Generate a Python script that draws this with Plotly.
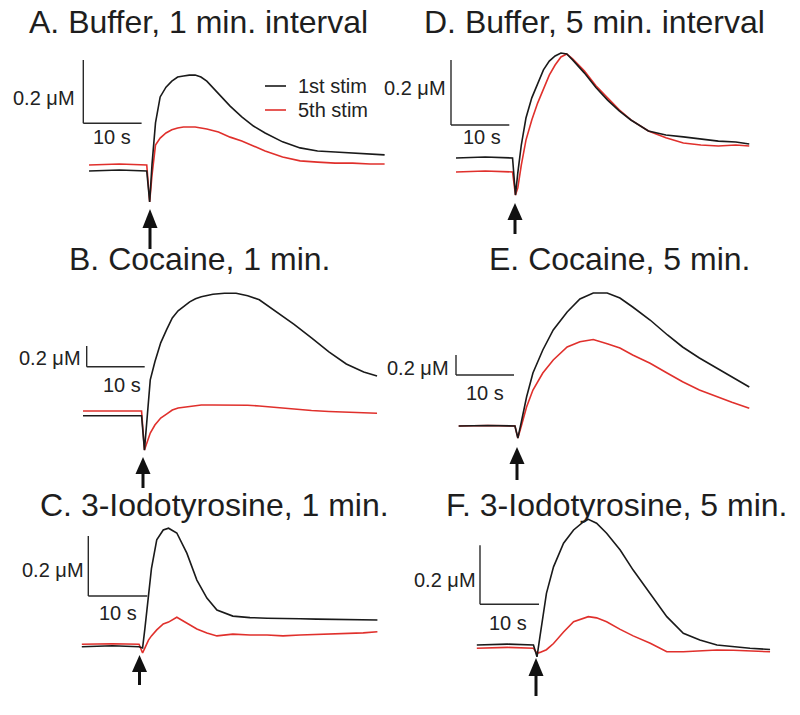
import plotly.graph_objects as go

W, H = 800, 715
FONT = "Liberation Sans, Arial, sans-serif"
BLACK = "#1a1a1a"
RED = "#e0302c"

# time (s, relative to stimulus) and dopamine (uM)
t_A = [-10.2, -5, -0.3, 0.2, 0.6, 1.2, 2, 3, 4, 5, 6, 7, 8, 9, 10, 12, 14, 16, 18, 20, 23, 26, 29, 32, 35, 38, 40.5]
a_first = [0, 0.003, 0, -0.098, 0.02, 0.152, 0.234, 0.265, 0.284, 0.297, 0.300, 0.303, 0.303, 0.297, 0.284,
           0.243, 0.205, 0.171, 0.142, 0.120, 0.092, 0.073, 0.063, 0.060, 0.057, 0.054, 0.051]
a_fifth = [0.019, 0.022, 0.019, -0.098, -0.013, 0.082, 0.104, 0.120, 0.130, 0.136, 0.139, 0.139, 0.139, 0.136,
           0.133, 0.123, 0.107, 0.095, 0.079, 0.063, 0.044, 0.032, 0.028, 0.025, 0.025, 0.022, 0.022]

t_B = [-10.4, -5, -0.3, 0.2, 0.6, 1.2, 2, 3, 4, 5, 6, 7, 8, 9, 10, 12, 14, 16, 18, 20, 23, 26, 29, 32, 35, 38, 40.3]
b_first = [0, 0, 0, -0.332, -0.042, 0.346, 0.521, 0.704, 0.830, 0.945, 1.013, 1.061, 1.100, 1.130, 1.149,
           1.173, 1.183, 1.183, 1.159, 1.120, 1.003, 0.883, 0.752, 0.617, 0.500, 0.423, 0.384]
b_fifth = [0.045, 0.045, 0.045, -0.332, -0.264, -0.167, -0.090, -0.022, 0.016, 0.055, 0.075, 0.084, 0.089,
           0.099, 0.104, 0.104, 0.104, 0.104, 0.101, 0.094, 0.079, 0.060, 0.050, 0.041, 0.036, 0.026, 0.023]

t_C = [-10.2, -5, -0.5, 0.1, 0.5, 1.1, 1.6, 2.5, 3.6, 4.5, 5.9, 7.6, 9.3, 11, 12.7, 15.4, 18.3, 21.2, 23.9,
       26.8, 29.6, 32.4, 35, 37.5, 39.9]
c_first = [0, 0.003, 0, -0.004, 0.062, 0.16, 0.26, 0.356, 0.389, 0.395, 0.379, 0.312, 0.222, 0.162, 0.122,
           0.102, 0.097, 0.095, 0.095, 0.093, 0.092, 0.091, 0.09, 0.09, 0.089]
c_fifth = [0.008, 0.01, 0.008, -0.021, -0.004, 0.022, 0.036, 0.056, 0.076, 0.082, 0.098, 0.078, 0.059, 0.046,
           0.036, 0.042, 0.039, 0.039, 0.036, 0.039, 0.041, 0.042, 0.046, 0.046, 0.05]

t_D = [-10, -5, -0.3, 0.2, 0.6, 1.2, 2, 3, 4, 5, 6, 7, 8, 9, 10, 12, 14, 16, 18, 20, 23, 26, 29, 32, 35, 38, 40.3]
d_first = [0, 0.003, 0, -0.114, -0.046, 0.040, 0.123, 0.185, 0.228, 0.271, 0.298, 0.314, 0.323, 0.320, 0.302,
           0.262, 0.217, 0.178, 0.145, 0.117, 0.083, 0.071, 0.065, 0.058, 0.052, 0.049, 0.043]
d_fifth = [-0.043, -0.040, -0.043, -0.114, -0.092, -0.022, 0.055, 0.117, 0.169, 0.215, 0.255, 0.286, 0.311,
           0.320, 0.305, 0.268, 0.222, 0.185, 0.148, 0.117, 0.083, 0.062, 0.046, 0.040, 0.037, 0.040, 0.037]

t_E = [-10, -5, -0.3, 0.2, 0.8, 1.7, 2.8, 4.5, 6.3, 8.7, 10.9, 13.2, 15.6, 17.8, 20, 23, 26, 28.6, 31.5, 34.4, 37.1, 40.1]
e_first = [0, 0.005, 0, -0.12, 0.04, 0.29, 0.53, 0.76, 0.96, 1.14, 1.27, 1.33, 1.33, 1.28, 1.19, 1.06, 0.91,
           0.79, 0.68, 0.58, 0.49, 0.39]
e_fifth = [0, 0.005, 0, -0.12, 0.0, 0.19, 0.36, 0.53, 0.66, 0.79, 0.843, 0.865, 0.822, 0.78, 0.71, 0.627,
           0.527, 0.443, 0.36, 0.293, 0.237, 0.177]

t_F = [-10.2, -5, -0.6, 0, 0.5, 1.6, 2.8, 4.5, 6.2, 7.9, 8.7, 10.1, 11.8, 14.1, 16.3, 19.2, 22, 24.8, 27.6,
       30.5, 33.3, 36.1, 39.5]
f_first = [0, 0.003, 0, -0.04, 0.028, 0.175, 0.265, 0.345, 0.39, 0.418, 0.426, 0.413, 0.379, 0.322, 0.254,
           0.175, 0.096, 0.04, 0.017, 0, -0.006, -0.011, -0.015]
f_fifth = [-0.011, -0.008, -0.011, -0.028, -0.025, -0.016, 0.005, 0.044, 0.079, 0.092, 0.096, 0.092, 0.079,
           0.053, 0.031, 0.006, -0.023, -0.023, -0.02, -0.017, -0.018, -0.02, -0.023]

panel_titles = ["A. Buffer, 1 min. interval", "B. Cocaine, 1 min.", "C. 3-Iodotyrosine, 1 min.",
                "D. Buffer, 5 min. interval", "E. Cocaine, 5 min.", "F. 3-Iodotyrosine, 5 min."]
series_names = ["1st stim", "5th stim"]

# per panel placement: pixel of t=0, px per s, pixel of 0 uM, px per uM,
# scale bar corner, label spots, arrow (x, tip, head base, tail), title centre
panels = [
    dict(t=t_A, ys=(a_first, a_fifth), x0=148.5, sx=5.83, y0=171, sy=316.5, bar=(83.3, 123.3),
         lab_uM=(77, 98), lab_s=(112, 137), arrow=(150, 209, 228, 249), title=(198, 22)),
    dict(t=t_B, ys=(b_first, b_fifth), x0=143.3, sx=5.8, y0=415.7, sy=103.5, bar=(86.7, 366.7),
         lab_uM=(83, 358), lab_s=(122, 385), arrow=(143, 457, 474, 488), title=(199, 259)),
    dict(t=t_C, ys=(c_first, c_fifth), x0=142, sx=5.9, y0=646.7, sy=300, bar=(88.3, 596),
         lab_uM=(86, 570), lab_s=(118, 613), arrow=(139.5, 655, 672, 685), title=(214, 505)),
    dict(t=t_D, ys=(d_first, d_fifth), x0=514.3, sx=5.83, y0=158, sy=325, bar=(451, 125),
         lab_uM=(448, 88), lab_s=(482, 137), arrow=(515, 203, 220, 234), title=(594, 22)),
    dict(t=t_E, ys=(e_first, e_fifth), x0=516.7, sx=5.8, y0=426, sy=100, bar=(456, 375),
         lab_uM=(451, 368), lab_s=(485, 393), arrow=(517, 447, 464, 480), title=(619, 259)),
    dict(t=t_F, ys=(f_first, f_fifth), x0=537, sx=5.9, y0=645, sy=295, bar=(480, 604.3),
         lab_uM=(478, 580), lab_s=(508, 623), arrow=(536, 658, 676, 696), title=(616, 505)),
]


def px(x):
    return x / W


def py(y):
    return 1 - y / H


fig = go.Figure()
shapes = []
annotations = []
axes = {}

for i, (p, title) in enumerate(zip(panels, panel_titles)):
    n = "" if i == 0 else str(i + 1)
    xa, ya = "x" + n, "y" + n
    # axis ranges so that the data lands where it does in the source figure
    axes["xaxis" + n] = dict(domain=[0, 1], range=[-p["x0"] / p["sx"], (W - p["x0"]) / p["sx"]],
                             visible=False, fixedrange=True, anchor=ya)
    axes["yaxis" + n] = dict(domain=[0, 1], range=[(p["y0"] - H) / p["sy"], p["y0"] / p["sy"]],
                             visible=False, fixedrange=True, anchor=xa)

    # 5th stim drawn first, 1st stim on top (as in the figure)
    for name, yv, col in [(series_names[1], p["ys"][1], RED), (series_names[0], p["ys"][0], BLACK)]:
        fig.add_scatter(x=p["t"], y=yv, mode="lines", name=name, xaxis=xa, yaxis=ya,
                        line=dict(color=col, width=1.6), showlegend=False)

    # scale bars: 10 s and 0.2 uM in data units
    bt = (p["bar"][0] - p["x0"]) / p["sx"]
    bc = (p["y0"] - p["bar"][1]) / p["sy"]
    shapes.append(dict(type="line", xref=xa, yref=ya, x0=bt, x1=bt + 10, y0=bc, y1=bc,
                       line=dict(color="#2a2a2a", width=1.4)))
    shapes.append(dict(type="line", xref=xa, yref=ya, x0=bt, x1=bt, y0=bc, y1=bc + 0.2,
                       line=dict(color="#2a2a2a", width=1.4)))

    annotations.append(dict(text="0.2 μM", x=px(p["lab_uM"][0]), y=py(p["lab_uM"][1]), xref="paper",
                            yref="paper", xanchor="right", yanchor="middle", showarrow=False,
                            font=dict(size=20, color="#222", family=FONT)))
    annotations.append(dict(text="10 s", x=px(p["lab_s"][0]), y=py(p["lab_s"][1]), xref="paper",
                            yref="paper", xanchor="center", yanchor="middle", showarrow=False,
                            font=dict(size=20, color="#222", family=FONT)))
    annotations.append(dict(text=title, x=px(p["title"][0]), y=py(p["title"][1]), xref="paper",
                            yref="paper", xanchor="center", yanchor="middle", showarrow=False,
                            font=dict(size=32, color="#1e1e1e", family=FONT)))

    # stimulus arrow
    ax, tip, base, tail = p["arrow"]
    hw = 7.5
    shapes.append(dict(type="line", xref="paper", yref="paper", x0=px(ax), x1=px(ax),
                       y0=py(base - 2), y1=py(tail), line=dict(color="#111", width=3)))
    shapes.append(dict(type="path", xref="paper", yref="paper",
                       path=f"M {px(ax)},{py(tip)} L {px(ax - hw)},{py(base)} L {px(ax + hw)},{py(base)} Z",
                       fillcolor="#111", line=dict(width=0)))

# key in panel A
for name, col, ly in [(series_names[0], BLACK, 86), (series_names[1], RED, 110)]:
    shapes.append(dict(type="line", xref="paper", yref="paper", x0=px(265), x1=px(286), y0=py(ly), y1=py(ly),
                       line=dict(color=col, width=1.6)))
    annotations.append(dict(text=name, x=px(296), y=py(ly), xref="paper", yref="paper", xanchor="left",
                            yanchor="middle", showarrow=False, font=dict(size=20, color="#222", family=FONT)))

fig.update_layout(
    width=W, height=H,
    margin=dict(l=0, r=0, t=0, b=0),
    paper_bgcolor="white", plot_bgcolor="rgba(0,0,0,0)",
    font=dict(family=FONT, color="#222"),
    shapes=shapes, annotations=annotations, showlegend=False,
    **axes,
)

# page body has an 8px default margin; drop it so the figure sits at the corner
fig.write_html("out.html", config={"displayModeBar": False},
               post_script="document.body.style.margin='0';")
